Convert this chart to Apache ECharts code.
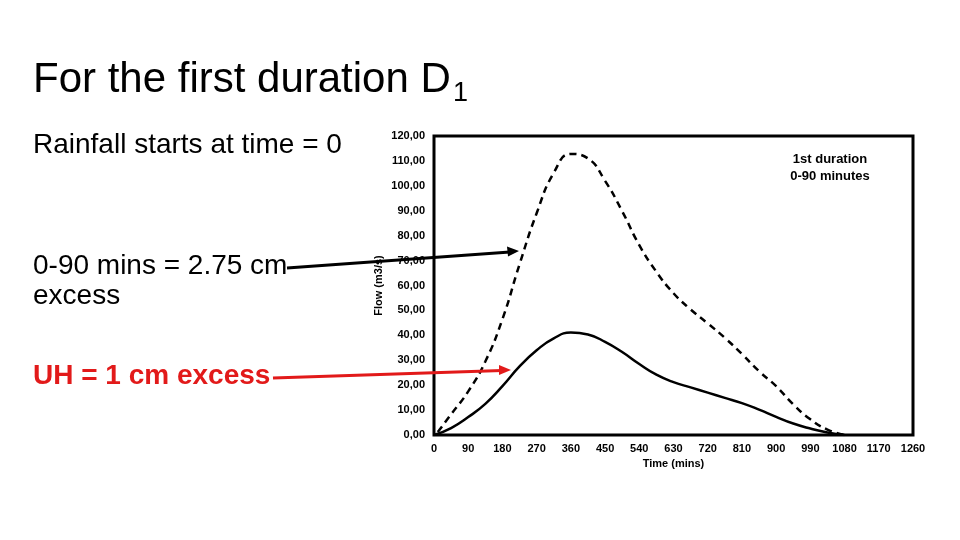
<!DOCTYPE html>
<html>
<head>
<meta charset="utf-8">
<script src="https://cdn.jsdelivr.net/npm/echarts@6/dist/echarts.min.js"></script>
<style>
  html, body { margin: 0; padding: 0; background: #fff; }
  #main { width: 960px; height: 540px; }
</style>
</head>
<body>
<div id="main"></div>
<script>
// tick labels of the time axis (mins)
const timeTicks = [0, 90, 180, 270, 360, 450, 540, 630, 720, 810, 900, 990, 1080, 1170, 1260]

// 1 cm excess unit hydrograph (solid)
const uhTime = [0, 45, 90, 135, 180, 225, 270, 315, 360, 405, 450, 495, 540, 585, 630, 675, 720, 765, 810, 855, 900, 945, 990, 1035, 1080]
const uhFlow = [0, 2.8, 7.2, 12.5, 19.6, 27.5, 34.0, 38.8, 41.1, 40.3, 37.4, 33.3, 28.5, 24.2, 21.2, 19.1, 17.0, 14.9, 12.8, 10.2, 7.3, 4.6, 2.6, 1.0, 0]

// 2.75 cm excess, 0-90 mins (dashed)
const d1Time = [10, 45, 90, 135, 180, 225, 270, 315, 360, 405, 450, 495, 540, 585, 630, 675, 720, 765, 810, 855, 900, 945, 990, 1035, 1080]
const d1Flow = [1.2, 8.3, 17.5, 29.5, 46.5, 68.5, 89, 105.2, 112.8, 111, 102, 89.8, 76.2, 65.5, 56.9, 50.4, 44.8, 39, 32.5, 25.6, 19.6, 12.3, 6.3, 2.2, 0]

const pairs = (xs, ys) => xs.map((x, i) => [x, ys[i]])

let myChart = echarts.init(document.getElementById('main'))
const fam = '"Liberation Sans", Arial, sans-serif'

myChart.setOption({
  animation: false,
  backgroundColor: '#fff',
  grid: {
    left: 434,
    right: 47,
    top: 136,
    bottom: 105,
    show: true,
    borderColor: '#000',
    borderWidth: 3,
    backgroundColor: 'transparent'
  },
  xAxis: {
    type: 'value',
    min: 0,
    max: 1260,
    interval: 90,
    name: 'Time (mins)',
    nameLocation: 'middle',
    nameGap: 22,
    nameTextStyle: { fontFamily: fam, fontWeight: 'bold', fontSize: 11, color: '#000' },
    axisLine: { show: false },
    axisTick: { show: false },
    splitLine: { show: false },
    axisLabel: {
      fontFamily: fam, fontWeight: 'bold', fontSize: 11, color: '#000', margin: 8,
      formatter: v => (timeTicks.indexOf(v) >= 0 ? String(v) : '')
    }
  },
  yAxis: {
    type: 'value',
    min: 0,
    max: 120,
    interval: 10,
    name: 'Flow (m3/s)',
    nameLocation: 'middle',
    nameGap: 50,
    nameTextStyle: { fontFamily: fam, fontWeight: 'bold', fontSize: 11, color: '#000' },
    axisLine: { show: false },
    axisTick: { show: false },
    splitLine: { show: false },
    axisLabel: {
      fontFamily: fam, fontWeight: 'bold', fontSize: 11, color: '#000', margin: 9,
      formatter: v => v.toFixed(2).replace('.', ',')
    }
  },
  series: [
    {
      name: '2.75 cm excess',
      type: 'line',
      smooth: 0.5,
      showSymbol: false,
      data: pairs(d1Time, d1Flow),
      lineStyle: { color: '#000', width: 2.5, type: [7, 5] },
      z: 3
    },
    {
      name: 'UH 1 cm',
      type: 'line',
      smooth: 0.5,
      showSymbol: false,
      data: pairs(uhTime, uhFlow),
      lineStyle: { color: '#000', width: 2.5 },
      z: 3
    }
  ],
  graphic: [
    { type: 'text', style: { text: 'For the first duration D', x: 33, y: 80, font: '42px ' + fam, fill: '#000', textVerticalAlign: 'middle' } },
    { type: 'text', style: { text: '1', x: 453, y: 94, font: '27px ' + fam, fill: '#000', textVerticalAlign: 'middle' } },
    { type: 'text', style: { text: 'Rainfall starts at time = 0', x: 33, y: 145, font: '28px ' + fam, fill: '#000', textVerticalAlign: 'middle' } },
    { type: 'text', style: { text: '0-90 mins = 2.75 cm', x: 33, y: 266, font: '28px ' + fam, fill: '#000', textVerticalAlign: 'middle' } },
    { type: 'text', style: { text: 'excess', x: 33, y: 296, font: '28px ' + fam, fill: '#000', textVerticalAlign: 'middle' } },
    { type: 'text', style: { text: 'UH = 1 cm excess', x: 33, y: 376, font: 'bold 28px ' + fam, fill: '#e21a1a', textVerticalAlign: 'middle' } },
    { type: 'text', style: { text: '1st duration\n0-90 minutes', x: 830, y: 168, font: 'bold 13px ' + fam, fill: '#000', textAlign: 'center', textVerticalAlign: 'middle', lineHeight: 17 } },
    // arrows
    { type: 'line', z: 10, shape: { x1: 287, y1: 268, x2: 510, y2: 252 }, style: { stroke: '#000', lineWidth: 3 } },
    { type: 'polygon', z: 10, shape: { points: [[519, 251], [507, 246.5], [508, 256.5]] }, style: { fill: '#000' } },
    { type: 'line', z: 10, shape: { x1: 273, y1: 378, x2: 502, y2: 370.5 }, style: { stroke: '#e21a1a', lineWidth: 3 } },
    { type: 'polygon', z: 10, shape: { points: [[511, 370], [499, 365], [499, 375]] }, style: { fill: '#e21a1a' } }
  ]
})
window.addEventListener('resize', function () {
  myChart.resize()
})
</script>
</body>
</html>
